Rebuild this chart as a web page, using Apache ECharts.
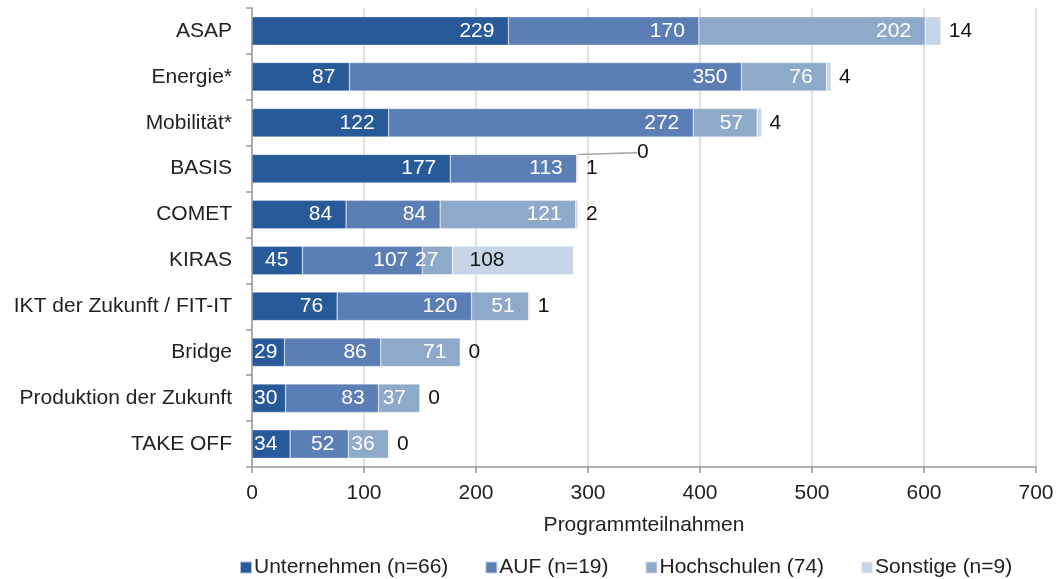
<!DOCTYPE html>
<html><head><meta charset="utf-8">
<script src="https://cdn.jsdelivr.net/npm/echarts@6/dist/echarts.min.js"></script>
<style>html,body{margin:0;padding:0;background:#fff}#c{width:1058px;height:579px}</style>
</head><body><div id="c"></div>
<script>
const categories = ['ASAP','Energie*','Mobilität*','BASIS','COMET','KIRAS','IKT der Zukunft / FIT-IT','Bridge','Produktion der Zukunft','TAKE OFF'];
const unternehmen = [229, 87, 122, 177, 84, 45, 76, 29, 30, 34];
const auf = [170, 350, 272, 113, 84, 107, 120, 86, 83, 52];
const hochschulen = [202, 76, 57, 0, 121, 27, 51, 71, 37, 36];
const sonstige = [14, 4, 4, 1, 2, 108, 1, 0, 0, 0];
const seriesNames = ['Unternehmen (n=66)','AUF (n=19)','Hochschulen (74)','Sonstige (n=9)'];
const colors = ['#285a9a','#5b7fb4','#8fa9cb','#c6d5e7'];
const FONT = 'Liberation Sans, Arial, sans-serif';
const FS = 21;

const chart = echarts.init(document.getElementById('c'));
const inLabel = {show:true, position:'insideRight', distance:14, color:'#fff', fontSize:FS, fontFamily:FONT};
function mk(name, data, color, label, extra) {
  return Object.assign({
    name, type:'bar', stack:'t', data, barCategoryGap:'38%',
    itemStyle:{color, borderColor:'rgba(255,255,255,0.6)', borderWidth:0.5},
    label, emphasis:{disabled:true}
  }, extra||{});
}
const unData = unternehmen.map((v,i)=> i>=7 ? {value:v, label:{position:'insideLeft', distance:2}} : v);
const hsData = hochschulen.map((v,i)=> i===3 ? {value:v, label:{position:'right', color:'#111', distance:2}, labelLine:{show:true}} : v);
const soData = sonstige.map((v,i)=> i===5 ? {value:v, label:{position:'insideLeft', distance:17}} : v);
chart.setOption({
  animation:false,
  textStyle:{fontFamily:FONT},
  grid:{left:252, right:22, top:8, bottom:112},
  legend:{
    bottom:-4, left:234, itemWidth:12, itemHeight:12, itemGap:36, icon:'rect',
    textStyle:{fontSize:FS, color:'#222', fontFamily:FONT, padding:[0,0,0,-3]},
    data:seriesNames
  },
  xAxis:{
    type:'value', min:0, max:700, interval:100,
    name:'Programmteilnahmen', nameLocation:'middle', nameGap:48,
    nameTextStyle:{fontSize:FS, color:'#222', fontFamily:FONT},
    axisLine:{show:true, lineStyle:{color:'#999', width:1.5}},
    axisTick:{show:true, length:6, lineStyle:{color:'#999', width:1.5}},
    axisLabel:{fontSize:FS, color:'#222', margin:16, fontFamily:FONT},
    splitLine:{show:true, lineStyle:{color:'#d9d9d9', width:1.5}}
  },
  yAxis:{
    type:'category', data:categories, inverse:true,
    axisLine:{show:true, lineStyle:{color:'#999', width:1.5}},
    axisTick:{show:true, length:6, alignWithLabel:false, lineStyle:{color:'#999', width:1.5}},
    axisLabel:{fontSize:FS, color:'#222', margin:20, fontFamily:FONT}
  },
  series:[
    mk(seriesNames[0], unData, colors[0], inLabel),
    mk(seriesNames[1], auf, colors[1], inLabel),
    mk(seriesNames[2], hsData, colors[2], inLabel, {
      labelLayout:function(p){ return p.dataIndex===3 ? {dx:58, dy:-16} : {}; },
      labelLine:{show:false, lineStyle:{color:'#a6a6a6', width:1.5}}
    }),
    mk(seriesNames[3], soData, colors[3], {show:true, position:'right', distance:8, color:'#111', fontSize:FS, fontFamily:FONT})
  ]
});
</script></body></html>
